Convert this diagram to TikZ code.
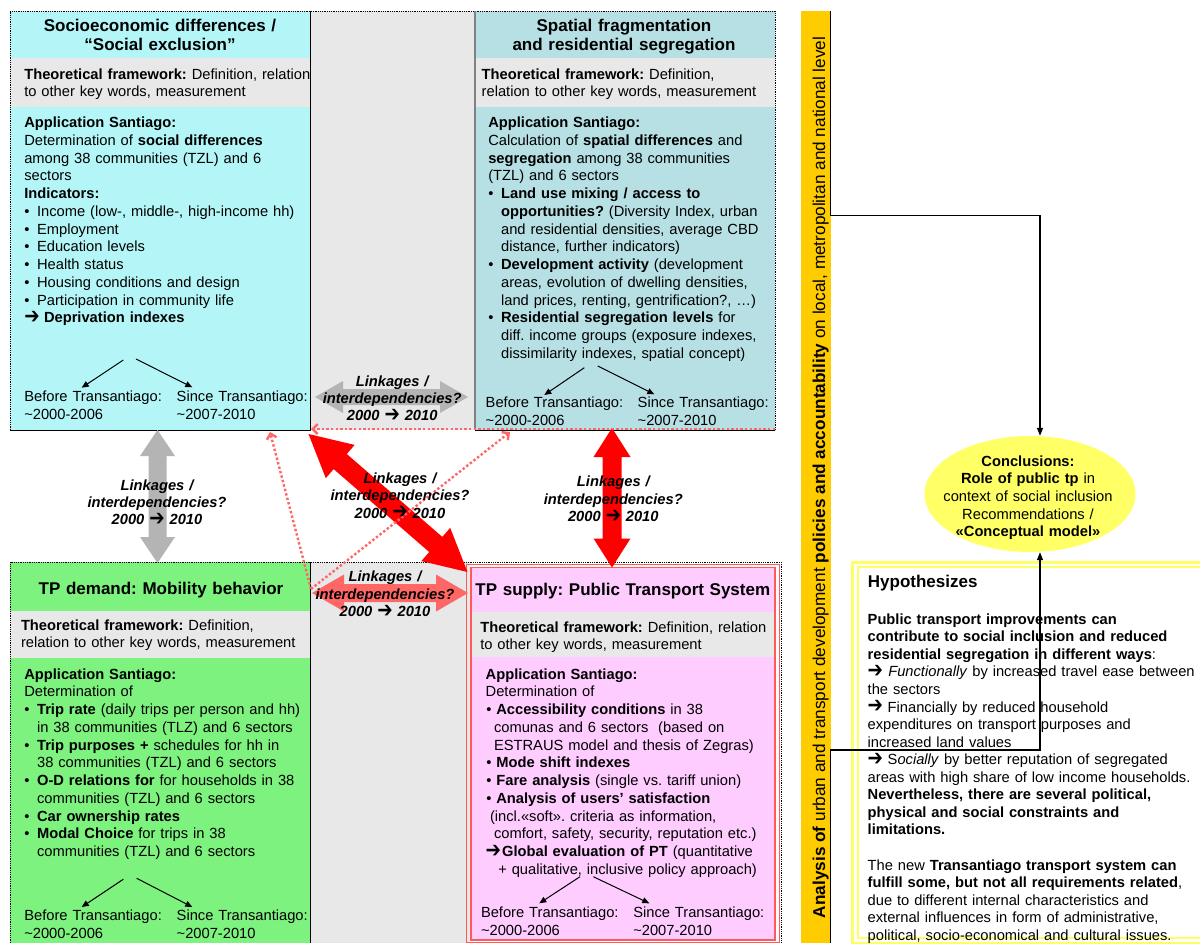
\documentclass[tikz,border=0pt]{standalone}
\usepackage{fontspec}
\usepackage{graphicx}
\setmainfont{Liberation Sans}
\newfontfamily\djv{DejaVu Sans}
\usetikzlibrary{calc,shapes.geometric,arrows.meta}
\definecolor{cyanbox}{RGB}{180,246,247}
\definecolor{tealbox}{RGB}{183,224,228}
\definecolor{greenbox}{RGB}{126,242,126}
\definecolor{pinkbox}{RGB}{255,204,255}
\definecolor{greyband}{RGB}{232,232,232}
\definecolor{barorange}{RGB}{255,204,0}
\definecolor{ellyellow}{RGB}{255,255,102}
\definecolor{hypyellow}{RGB}{255,255,100}
\definecolor{salmon}{RGB}{255,102,102}
\definecolor{linkgrey}{RGB}{180,180,180}
\definecolor{dotred}{RGB}{255,102,102}
\definecolor{boxred}{RGB}{255,90,90}
\newcommand\rarr{\raisebox{-0.8pt}{\scalebox{1.25}[1.5]{\djv\mdseries\upshape\symbol{"2794}}}}
\newcommand\mybul{\makebox[12.8pt][l]{•}}
\newcommand\myind{\hspace*{12.8pt}}
\newcommand\tld{\textasciitilde}
\newcommand\blockarrow[6]{%
  \path let \p1=(#1), \p2=(#2) in \pgfextra{%
    \pgfmathsetmacro\baL{veclen(\x2-\x1,\y2-\y1)}%
    \pgfmathsetmacro\baA{atan2(\y2-\y1,\x2-\x1)}%
    \global\let\baLG\baL \global\let\baAG\baA};
  \fill[#6, shift={(#1)}, rotate=\baAG] (0,0) -- (#5,#4) -- (#5,#3) -- ({\baLG-#5},#3) -- ({\baLG-#5},#4) -- (\baLG,0) -- ({\baLG-#5},-#4) -- ({\baLG-#5},-#3) -- (#5,-#3) -- (#5,-#4) -- cycle;
}
\tikzset{
  region/.style={anchor=north west, inner sep=0pt, outer sep=0pt, draw=none},
  bodytxt/.style={anchor=base west, inner sep=0pt, outer sep=0pt, align=left, text width=300pt, font=\fontsize{14.7}{17.75}\selectfont},
  theotxt/.style={bodytxt, font=\fontsize{14.7}{17.2}\selectfont},
  periodtxt/.style={bodytxt, text width=150pt, font=\fontsize{14.7}{18}\selectfont},
  titletxt/.style={anchor=base, inner sep=0pt, outer sep=0pt, align=center, text width=300pt, font=\bfseries\fontsize{17}{19}\selectfont},
  linktxt/.style={anchor=base, inner sep=0pt, outer sep=0pt, align=center, text width=170pt, font=\bfseries\itshape\fontsize{14.7}{17.4}\selectfont},
  fork/.style={line width=1pt, -{Triangle[length=7pt,width=6pt]}},
  dotarrow/.style={draw=dotred, line width=2.4pt, dash pattern=on 2.4pt off 2.2pt, -{Straight Barb[length=5pt,width=10pt]}},
  blackconn/.style={line width=1.4pt, -{Triangle[length=8pt,width=6pt]}},
  rowedge/.style={line width=0.8pt, densely dotted},
  boxedge/.style={line width=0.8pt},
}
\begin{document}
\frenchspacing
\begin{tikzpicture}[x=1pt,y=-1pt]
\useasboundingbox (0,0) rectangle (1200,943);
\fill[white] (0,0) rectangle (1200,943);

% ---------- regions ----------
\node[region, minimum width=300pt, minimum height=419pt] (b1) at (10,11) {};
\node[region, minimum width=165pt, minimum height=419pt] (mid1) at (310,11) {};
\node[region, minimum width=300pt, minimum height=419pt] (b2) at (475,11) {};
\node[region, minimum width=300pt, minimum height=381pt] (b3) at (10,562) {};
\node[region, minimum width=160pt, minimum height=381pt] (mid2) at (310,562) {};
\node[region, minimum width=304pt, minimum height=372.5pt] (b4) at (471,567.5) {};
\node[region, minimum width=29.5pt, minimum height=932pt, fill=barorange] (bar) at (801,11) {};
\node[region, minimum width=360pt, minimum height=381pt] (hyp) at (852,562) {};

% fills
\fill[cyanbox] (b1.north west) rectangle (b1.south east);
\fill[greyband] ($(b1.north west)+(0,47)$) rectangle ($(b1.north east)+(0,96)$);
\fill[greyband] (mid1.north west) rectangle (mid1.south east);
\fill[tealbox] (b2.north west) rectangle (b2.south east);
\fill[greyband] ($(b2.north west)+(0,47)$) rectangle ($(b2.north east)+(0,96)$);
\fill[greenbox] (b3.north west) rectangle (b3.south east);
\fill[greyband] ($(b3.north west)+(0,49)$) rectangle ($(b3.north east)+(0,96)$);
\fill[greyband] (mid2.north west) rectangle (mid2.south east);
\fill[pinkbox] (b4.north west) rectangle (b4.south east);
\fill[greyband] ($(b4.north west)+(0,44.5)$) rectangle ($(b4.north east)+(0,89.5)$);

% edges top row
\draw[rowedge] (b1.south west) -- (b1.north west) -- (b2.north east) -- (b2.south east);
\draw[boxedge] (b1.north east) -- (b1.south east) -- (b1.south west);
\draw[line width=1.2pt, gray] (b2.north west) -- (b2.south west);
\draw[boxedge] (b2.south west) -- (b2.south east);
% edges bottom row
\draw[rowedge] (b3.south west) -- (b3.north west) -- ($(b4.north east)+(6,-5.5)$) -- ($(b4.south east)+(6,3)$);
\draw[boxedge] (b3.north east) -- (b3.south east);
\draw[boxred, line width=1pt] ($(b4.north west)+(-4.5,-3.5)$) rectangle ($(b4.south east)+(4.5,2.5)$);
\draw[boxred, line width=1.6pt] (b4.north west) rectangle (b4.south east);
% hypotheses frame
\draw[hypyellow, line width=3pt] (hyp.north west) rectangle (hyp.south east);
\draw[hypyellow, line width=1.5pt] ($(hyp.north west)+(6,5)$) rectangle ($(hyp.south east)+(0,-5)$);

% ---------- block arrows ----------
\coordinate (ghL) at ($(mid1.south west)+(5,-33)$);
\coordinate (ghR) at ($(mid1.south east)+(-7,-33)$);
\blockarrow{ghL}{ghR}{8}{16}{28}{linkgrey}
\coordinate (gvT) at ($(b1.south)+(-2.5,0)$);
\coordinate (gvB) at ($(b3.north)+(-2.5,1)$);
\blockarrow{gvT}{gvB}{9}{17.5}{26}{linkgrey}
\coordinate (rvT) at ($(b2.south)+(-13,-2)$);
\coordinate (rvB) at (rvT |- b4.north);
\blockarrow{rvT}{rvB}{9.5}{18.5}{29}{red}
\coordinate (shL) at ($(mid2.north west)+(2,31)$);
\coordinate (shR) at ($(mid2.north east)+(-2,31)$);
\blockarrow{shL}{shR}{9}{18.5}{32}{salmon}
\coordinate (rdT) at ($(b1.south east)+(-1.5,4)$);
\coordinate (rdB) at ($(b4.north west)+(-3.5,4.5)$);
\blockarrow{rdT}{rdB}{10}{22}{42}{red}

% ---------- dotted arrows ----------
\coordinate (dS) at ($(shL)+(-1,-4)$);
\coordinate (dA) at ($(b1.south east)+(-40,2)$);
\coordinate (dB) at ($(b2.south west)+(35,2)$);
\coordinate (dC1) at ($(b2.south east)+(0,-1)$);
\coordinate (dC2) at ($(b1.south east)+(1,-1)$);
\draw[dotarrow] (dS) -- (dA);
\draw[dotarrow] (dS) -- (dB);
\draw[dotarrow] (dC1) -- (dC2);

% ---------- box 1 ----------
\node[titletxt] (t1) at (160,31.7) {Socioeconomic differences /\\“Social exclusion”};
\node[theotxt] (th1) at (24.3,79) {\textbf{Theoretical framework:} Definition, relation\\to other key words, measurement};
\node[bodytxt] (bd1) at (24.3,127.7) {\textbf{Application Santiago:}\\
Determination of \textbf{social differences}\\
among 38 communities (TZL) and 6\\
sectors\\
\textbf{Indicators:}\\
\mybul Income (low-, middle-, high-income hh)\\
\mybul Employment\\
\mybul Education levels\\
\mybul Health status\\
\mybul Housing conditions and design\\
\mybul Participation in community life\\
\makebox[19.7pt][l]{\rarr}\textbf{Deprivation indexes}};
\node[periodtxt] (bf1) at (24.3,401.3) {Before Transantiago:\\\tld2000-2006};
\node[periodtxt] (sn1) at (176.7,401.3) {Since Transantiago:\\\tld2007-2010};
\coordinate (f1a) at (123.3,360); \coordinate (f1b) at (81.7,387.7);
\coordinate (f1c) at (136,359); \coordinate (f1d) at (192.3,387.3);
\draw[fork] (f1a) -- (f1b);
\draw[fork] (f1c) -- (f1d);

% ---------- box 2 ----------
\node[titletxt] (t2) at (624,31.7) {Spatial fragmentation\\and residential segregation};
\node[theotxt] (th2) at (481.7,79) {\textbf{Theoretical framework:} Definition,\\relation to other key words, measurement};
\node[bodytxt] (bd2) at (488.3,127.7) {\textbf{Application Santiago:}\\
Calculation of \textbf{spatial differences} and\\
\textbf{segregation} among 38 communities\\
(TZL) and 6 sectors\\
\mybul\textbf{Land use mixing / access to}\\
\myind\textbf{opportunities?} (Diversity Index, urban\\
\myind and residential densities, average CBD\\
\myind distance, further indicators)\\
\mybul\textbf{Development activity} (development\\
\myind areas, evolution of dwelling densities,\\
\myind land prices, renting, gentrification?, …)\\
\mybul\textbf{Residential segregation levels} for\\
\myind diff. income groups (exposure indexes,\\
\myind dissimilarity indexes, spatial concept)};
\node[periodtxt] (bf2) at (485.7,407.7) {Before Transantiago:\\\tld2000-2006};
\node[periodtxt] (sn2) at (637.7,407.7) {Since Transantiago:\\\tld2007-2010};
\coordinate (f2a) at (584.3,367.7); \coordinate (f2b) at (544.3,395);
\coordinate (f2c) at (597.7,366); \coordinate (f2d) at (654.3,394.3);
\draw[fork] (f2a) -- (f2b);
\draw[fork] (f2c) -- (f2d);

% ---------- box 3 ----------
\node[titletxt] (t3) at (161,594.3) {TP demand: Mobility behavior};
\node[theotxt] (th3) at (21,630.7) {\textbf{Theoretical framework:} Definition,\\relation to other key words, measurement};
\node[bodytxt] (bd3) at (24.3,679) {\textbf{Application Santiago:}\\
Determination of\\
\mybul\textbf{Trip rate} (daily trips per person and hh)\\
\myind in 38 communities (TLZ) and 6 sectors\\
\mybul\textbf{Trip purposes +} schedules for hh in\\
\myind 38 communities (TZL) and 6 sectors\\
\mybul\textbf{O-D relations for} for households in 38\\
\myind communities (TZL) and 6 sectors\\
\mybul\textbf{Car ownership rates}\\
\mybul\textbf{Modal Choice} for trips in 38\\
\myind communities (TZL) and 6 sectors};
\node[periodtxt] (bf3) at (24.3,920.3) {Before Transantiago:\\\tld2000-2006};
\node[periodtxt] (sn3) at (176.7,920.3) {Since Transantiago:\\\tld2007-2010};
\coordinate (f3a) at (123.3,879.3); \coordinate (f3b) at (81.7,907);
\coordinate (f3c) at (136.7,878.3); \coordinate (f3d) at (192.3,907);
\draw[fork] (f3a) -- (f3b);
\draw[fork] (f3c) -- (f3d);

% ---------- box 4 ----------
\node[titletxt] (t4) at (622.8,595) {TP supply: Public Transport System};
\node[theotxt] (th4) at (480.3,632.7) {\textbf{Theoretical framework:} Definition, relation\\to other key words, measurement};
\node[bodytxt] (bd4) at (485.7,679) {\textbf{Application Santiago:}\\
Determination of\\
\hspace*{0.6pt}• \textbf{Accessibility conditions} in 38\\
\hspace*{8.3pt}comunas and 6 sectors\ \ (based on\\
\hspace*{8.3pt}ESTRAUS model and thesis of Zegras)\\
\hspace*{0.6pt}• \textbf{Mode shift indexes}\\
\hspace*{0.6pt}• \textbf{Fare analysis} (single vs. tariff union)\\
\hspace*{0.6pt}• \textbf{Analysis of users’ satisfaction}\\
\hspace*{4.3pt}(incl.«soft». criteria as information,\\
\hspace*{8.3pt}comfort, safety, security, reputation etc.)\\
\rarr\hspace{1pt}\textbf{Global evaluation of PT} (quantitative\\
\hspace*{12.6pt}+ qualitative, inclusive policy approach)};
\node[periodtxt] (bf4) at (481,917) {Before Transantiago:\\\tld2000-2006};
\node[periodtxt] (sn4) at (633.3,917) {Since Transantiago:\\\tld2007-2010};
\coordinate (f4a) at (580,876.7); \coordinate (f4b) at (539.3,903.3);
\coordinate (f4c) at (593.3,876.7); \coordinate (f4d) at (649.3,903.3);
\draw[fork] (f4a) -- (f4b);
\draw[fork] (f4c) -- (f4d);

% ---------- linkage labels ----------
\node[linktxt] (lk1) at (392.2,386) {Linkages /\\interdependencies?\\2000 \rarr\ 2010};
\node[linktxt] (lk2) at (157,490) {Linkages /\\interdependencies?\\2000 \rarr\ 2010};
\node[linktxt] (lk3) at (400,483.3) {Linkages /\\interdependencies?\\2000 \rarr\ 2010};
\node[linktxt] (lk4) at (613.3,486.7) {Linkages /\\interdependencies?\\2000 \rarr\ 2010};
\node[linktxt] (lk5) at (385,581.7) {Linkages /\\interdependencies?\\2000 \rarr\ 2010};

% ---------- side bar ----------
\node[rotate=90, anchor=base west, inner sep=0pt, font=\fontsize{17.2}{20}\selectfont] (bartxt) at (825,918.3) {\textbf{Analysis of} urban and transport development \textbf{policies and accountability} on local, metropolitan and national level};

% ---------- conclusions ----------
\node[ellipse, fill=ellyellow, minimum width=211pt, minimum height=116pt, inner sep=0pt] (ell) at (1030,494) {};
\node[anchor=base, inner sep=0pt, align=center, text width=210pt, font=\fontsize{14.7}{17.7}\selectfont] (elltxt) at (1028,466) {\textbf{Conclusions:}\\\textbf{Role of public tp} in\\context of social inclusion\\Recommendations /\\\textbf{«Conceptual model»}};

% ---------- hypotheses ----------
\node[anchor=base west, inner sep=0pt, font=\bfseries\fontsize{17}{20}\selectfont] (hyptitle) at (867.7,587.7) {Hypothesizes};
\node[bodytxt, text width=332pt, font=\fontsize{14.7}{17.55}\selectfont] (hyptxt) at (867.7,624.3) {\textbf{Public transport improvements can}\\
\textbf{contribute to social inclusion and reduced}\\
\textbf{residential segregation in different ways}:\\
\makebox[20.6pt][l]{\rarr}\textit{Functionally} by increased travel ease between\\
the sectors\\
\makebox[20pt][l]{\rarr}Financially by reduced household\\
expenditures on transport purposes and\\
increased land values\\
\makebox[20pt][l]{\rarr}S\textit{ocially} by better reputation of segregated\\
areas with high share of low income households.\\
\textbf{Nevertheless, there are several political,}\\
\textbf{physical and social constraints and}\\
\textbf{limitations.}\\[17.55pt]
The new \textbf{Transantiago transport system can}\\
\textbf{fulfill some, but not all requirements related},\\
due to different internal characteristics and\\
external influences in form of administrative,\\
political, socio-economical and cultural issues.};

% ---------- black connectors ----------
\coordinate (j1) at (1040,215.5);
\coordinate (j2) at (1040,750);
\draw[blackconn] (bar.north east) |- (j1) -- (j1 |- ell.north);
\draw[blackconn] (bar.south east) |- (j2) -- (j2 |- ell.south);
\end{tikzpicture}
\end{document}
